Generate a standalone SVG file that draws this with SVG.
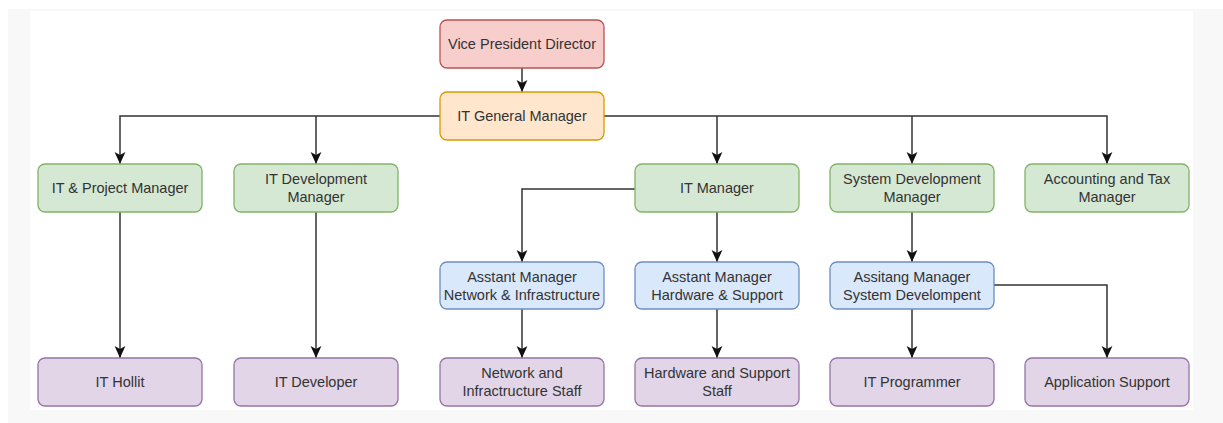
<svg xmlns="http://www.w3.org/2000/svg" width="1223" height="423" viewBox="0 0 1223 423">
  <defs>
    <style>
      .box { stroke-width: 1.3; }
      .red { fill: #f8cecc; stroke: #b85450; }
      .orange { fill: #ffe6cc; stroke: #d79b00; }
      .green { fill: #d5e8d4; stroke: #82b366; }
      .blue { fill: #dae8fc; stroke: #6c8ebf; }
      .purple { fill: #e1d5e7; stroke: #9673a6; }
      .label { font-family: "Liberation Sans", Arial, sans-serif; font-size: 14.5px; fill: #333333; text-anchor: middle; dominant-baseline: central; }
      .edge { fill: none; stroke: #333333; stroke-width: 1.5; }
    </style>
    <marker id="arrow" markerUnits="userSpaceOnUse" markerWidth="12" markerHeight="12" viewBox="0 0 10 10" refX="10" refY="5" orient="auto">
      <path d="M0,0.5 L10,5 L0,9.5 L2.5,5 Z" fill="#111111"/>
    </marker>
  </defs>

  <!-- page background -->
  <rect x="0" y="0" width="1223" height="423" fill="#ffffff"/>
  <rect x="8" y="9" width="1215" height="414" fill="#f8f8f8"/>
  <rect x="30" y="11" width="1163" height="399" fill="#ffffff"/>

  <!-- connectors -->
  <g id="connectors">
    <path class="edge" marker-end="url(#arrow)" d="M522,68 V92"/>
    <path class="edge" marker-end="url(#arrow)" d="M440,116 H120 V164"/>
    <path class="edge" marker-end="url(#arrow)" d="M316,116 V164"/>
    <path class="edge" marker-end="url(#arrow)" d="M604,116 H1107 V164"/>
    <path class="edge" marker-end="url(#arrow)" d="M717,116 V164"/>
    <path class="edge" marker-end="url(#arrow)" d="M912,116 V164"/>
    <path class="edge" marker-end="url(#arrow)" d="M635,189 H522 V262"/>
    <path class="edge" marker-end="url(#arrow)" d="M717,212 V262"/>
    <path class="edge" marker-end="url(#arrow)" d="M912,212 V262"/>
    <path class="edge" marker-end="url(#arrow)" d="M120,212 V358"/>
    <path class="edge" marker-end="url(#arrow)" d="M316,212 V358"/>
    <path class="edge" marker-end="url(#arrow)" d="M522,309 V358"/>
    <path class="edge" marker-end="url(#arrow)" d="M717,309 V358"/>
    <path class="edge" marker-end="url(#arrow)" d="M912,309 V358"/>
    <path class="edge" marker-end="url(#arrow)" d="M994,285 H1107 V358"/>
  </g>

  <!-- top level -->
  <g id="vice-president-director">
    <rect class="box red" x="440" y="20" width="164" height="48" rx="7"/>
    <text class="label" x="522" y="44">Vice President Director</text>
  </g>
  <g id="it-general-manager">
    <rect class="box orange" x="440" y="92" width="164" height="48" rx="7"/>
    <text class="label" x="522" y="116">IT General Manager</text>
  </g>

  <!-- managers -->
  <g id="it-project-manager">
    <rect class="box green" x="38" y="164" width="164" height="48" rx="7"/>
    <text class="label" x="120" y="188">IT &amp; Project Manager</text>
  </g>
  <g id="it-development-manager">
    <rect class="box green" x="234" y="164" width="164" height="48" rx="7"/>
    <text class="label" x="316" y="179">IT Development</text>
    <text class="label" x="316" y="197">Manager</text>
  </g>
  <g id="it-manager">
    <rect class="box green" x="635" y="164" width="164" height="48" rx="7"/>
    <text class="label" x="717" y="188">IT Manager</text>
  </g>
  <g id="system-development-manager">
    <rect class="box green" x="830" y="164" width="164" height="48" rx="7"/>
    <text class="label" x="912" y="179">System Development</text>
    <text class="label" x="912" y="197">Manager</text>
  </g>
  <g id="accounting-tax-manager">
    <rect class="box green" x="1025" y="164" width="164" height="48" rx="7"/>
    <text class="label" x="1107" y="179">Accounting and Tax</text>
    <text class="label" x="1107" y="197">Manager</text>
  </g>

  <!-- assistant managers -->
  <g id="assistant-network">
    <rect class="box blue" x="440" y="262" width="164" height="47" rx="7"/>
    <text class="label" x="522" y="277">Asstant Manager</text>
    <text class="label" x="522" y="295">Network &amp; Infrastructure</text>
  </g>
  <g id="assistant-hardware">
    <rect class="box blue" x="635" y="262" width="164" height="47" rx="7"/>
    <text class="label" x="717" y="277">Asstant Manager</text>
    <text class="label" x="717" y="295">Hardware &amp; Support</text>
  </g>
  <g id="assistant-system-development">
    <rect class="box blue" x="830" y="262" width="164" height="47" rx="7"/>
    <text class="label" x="912" y="277">Assitang Manager</text>
    <text class="label" x="912" y="295">System Develompent</text>
  </g>

  <!-- staff -->
  <g id="it-hollit">
    <rect class="box purple" x="38" y="358" width="164" height="48" rx="7"/>
    <text class="label" x="120" y="382">IT Hollit</text>
  </g>
  <g id="it-developer">
    <rect class="box purple" x="234" y="358" width="164" height="48" rx="7"/>
    <text class="label" x="316" y="382">IT Developer</text>
  </g>
  <g id="network-staff">
    <rect class="box purple" x="440" y="358" width="164" height="48" rx="7"/>
    <text class="label" x="522" y="373">Network and</text>
    <text class="label" x="522" y="391">Infractructure Staff</text>
  </g>
  <g id="hardware-staff">
    <rect class="box purple" x="635" y="358" width="164" height="48" rx="7"/>
    <text class="label" x="717" y="373">Hardware and Support</text>
    <text class="label" x="717" y="391">Staff</text>
  </g>
  <g id="it-programmer">
    <rect class="box purple" x="830" y="358" width="164" height="48" rx="7"/>
    <text class="label" x="912" y="382">IT Programmer</text>
  </g>
  <g id="application-support">
    <rect class="box purple" x="1025" y="358" width="164" height="48" rx="7"/>
    <text class="label" x="1107" y="382">Application Support</text>
  </g>
</svg>
